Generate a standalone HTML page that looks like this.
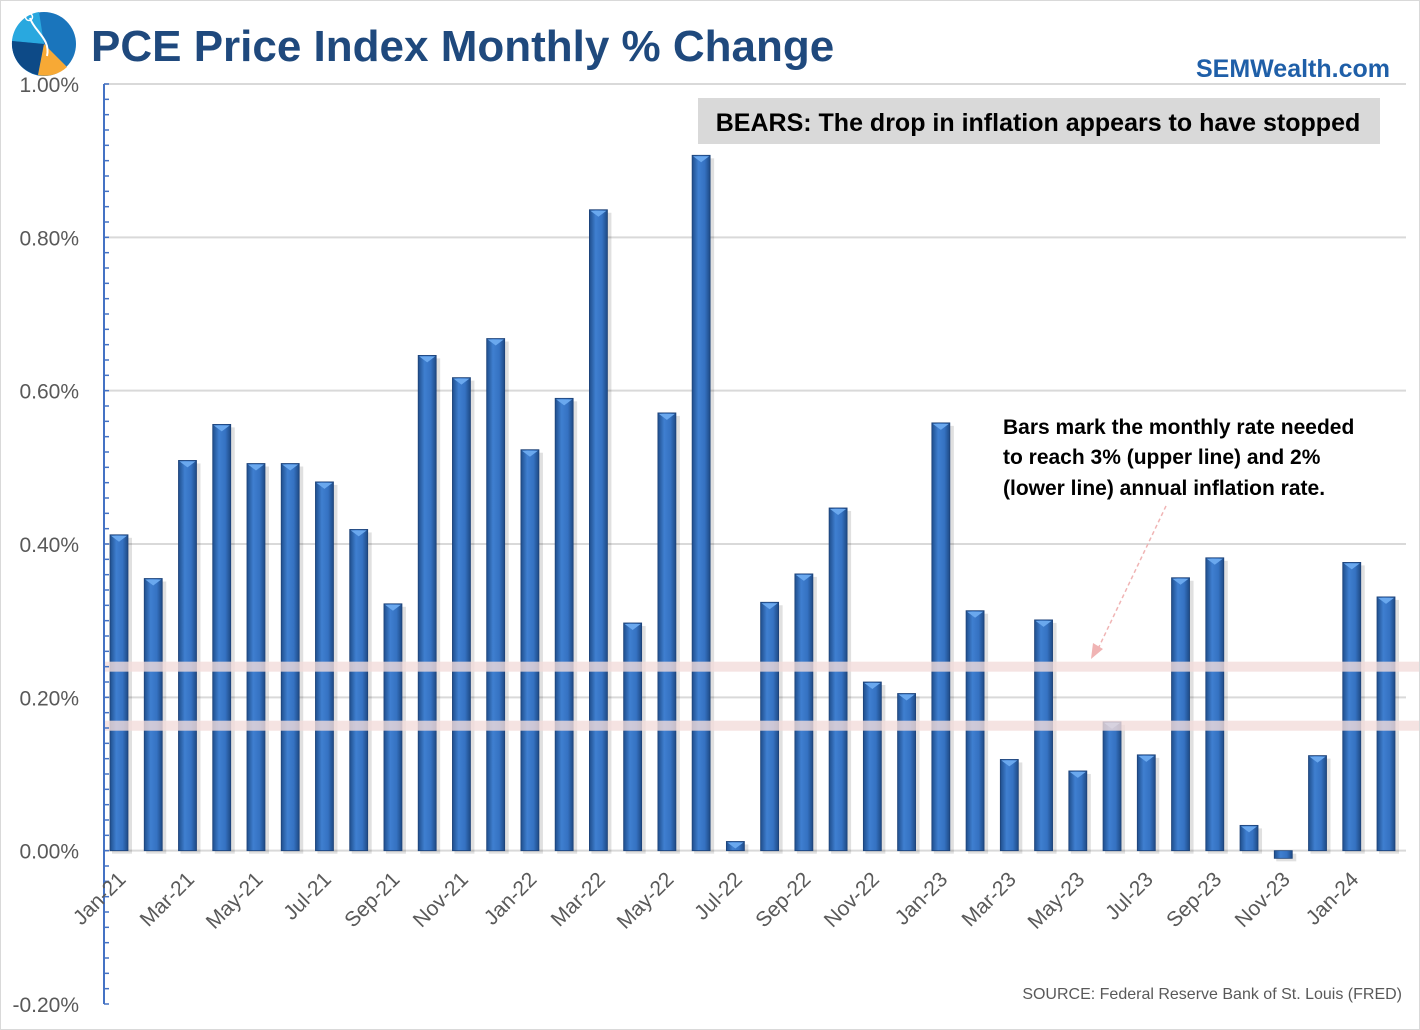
<!DOCTYPE html>
<html><head><meta charset="utf-8"><style>
body{margin:0;background:#fff;font-family:"Liberation Sans",sans-serif}
#wrap{position:relative;width:1420px;height:1030px;overflow:hidden;background:#fff;box-sizing:border-box;border:1px solid #d9d9d9}
</style></head><body>
<div id="wrap">
<svg id="chart" width="1420" height="1030">
<defs>
<linearGradient id="bg" x1="0" x2="1" y1="0" y2="0">
<stop offset="0" stop-color="#1f4e8c"/><stop offset="0.35" stop-color="#3f7fd0"/><stop offset="0.7" stop-color="#3572c2"/><stop offset="1" stop-color="#1e4a85"/>
</linearGradient>
</defs>
<g>
<circle cx="43" cy="43" r="32" fill="#1a75bc"/>
<path d="M43 43 L11 40 A32 32 0 0 1 38 11 Z" fill="#29a8df"/>
<path d="M43 43 L11 40 A32 32 0 0 0 37 74 Z" fill="#0d4a87"/>
<path d="M43 43 L37 74 A32 32 0 0 0 66 66 Z" fill="#f7a935"/>
<path d="M29 17 C33 30 50 38 46 55" stroke="#fff" stroke-width="2" fill="none"/>
<circle cx="28" cy="16" r="3.5" stroke="#fff" stroke-width="1.5" fill="none"/>
</g>
<text x="90" y="60" font-size="44" font-weight="bold" fill="#1f497d">PCE Price Index Monthly % Change</text>
<text x="1389" y="76" text-anchor="end" font-size="25" font-weight="bold" fill="#1f5fa8">SEMWealth.com</text>
<g id="grid"></g>
<g id="bars"></g>
<g id="bands"></g>
<g id="axis"></g>
<rect x="697" y="97" width="682" height="46" fill="#d9d9d9"/>
<text x="1037" y="130" text-anchor="middle" font-size="25" font-weight="bold" fill="#000">BEARS: The drop in inflation appears to have stopped</text>
<g font-size="21" font-weight="bold" fill="#000">
<text x="1002" y="433">Bars mark the monthly rate needed</text>
<text x="1002" y="463">to reach 3% (upper line) and 2%</text>
<text x="1002" y="494">(lower line) annual  inflation rate.</text>
</g>
<line x1="1165" y1="505" x2="1096" y2="650" stroke="#f0b4b4" stroke-width="1.5" stroke-dasharray="4,3"/>
<polygon points="1090,658 1092,642 1102,648" fill="#f0b4b4"/>
<text x="1401" y="998" text-anchor="end" font-size="16" fill="#595959">SOURCE: Federal Reserve Bank of St. Louis (FRED)</text>
</svg>
</div>
<script>
const categories=["Jan-21","Feb-21","Mar-21","Apr-21","May-21","Jun-21","Jul-21","Aug-21","Sep-21","Oct-21","Nov-21","Dec-21","Jan-22","Feb-22","Mar-22","Apr-22","May-22","Jun-22","Jul-22","Aug-22","Sep-22","Oct-22","Nov-22","Dec-22","Jan-23","Feb-23","Mar-23","Apr-23","May-23","Jun-23","Jul-23","Aug-23","Sep-23","Oct-23","Nov-23","Dec-23","Jan-24","Feb-24"];
const values=[0.412,0.355,0.509,0.556,0.505,0.505,0.481,0.419,0.322,0.646,0.617,0.668,0.523,0.590,0.836,0.297,0.571,0.907,0.012,0.324,0.361,0.447,0.220,0.205,0.558,0.313,0.119,0.301,0.104,0.168,0.125,0.356,0.382,0.033,-0.010,0.124,0.376,0.331];
const yTicks=[1.0,0.8,0.6,0.4,0.2,0.0,-0.2];
const refLines=[0.240,0.163];
const NS="http://www.w3.org/2000/svg";
const x0=103,x1=1405,yTop=83,yBot=1003,vMax=1.0,vMin=-0.2;
const y=v=>yTop+(vMax-v)/(vMax-vMin)*(yBot-yTop);
const step=(1385-118)/(categories.length-1);
const xc=i=>118+i*step;
function mk(t,a,p){const e=document.createElementNS(NS,t);for(const k in a)e.setAttribute(k,a[k]);p.appendChild(e);return e;}
const grid=document.getElementById('grid'),bars=document.getElementById('bars'),bands=document.getElementById('bands'),axis=document.getElementById('axis');
yTicks.forEach(v=>{
 if(v!==vMin){const l=mk('line',{x1:x0,x2:x1,y1:y(v),y2:y(v),stroke:'#d9d9d9','stroke-width':2},grid);
 
 }
 const t=mk('text',{x:78,y:y(v)+8,'text-anchor':'end','font-size':21,fill:'#595959'},axis);
 t.textContent=v.toFixed(2)+'%';
 
 
});
const ax=mk('line',{x1:x0,x2:x0,y1:yTop,y2:yBot,stroke:'#4472c4','stroke-width':2},axis);


for(let v=vMin;v<=vMax+1e-9;v+=0.02){mk('line',{x1:x0,x2:x0+5,y1:y(v),y2:y(v),stroke:'#4472c4','stroke-width':1.5},axis);}
values.forEach((v,i)=>{
 const top=Math.min(y(v),y(0)),h=Math.abs(y(v)-y(0));
 mk('rect',{x:xc(i)-9+2,y:top+3,width:20,height:h,fill:'#000',opacity:0.12},bars);
 const r=mk('rect',{x:xc(i)-9,y:top,width:18,height:Math.max(h,1),fill:'url(#bg)',stroke:'#1d4278','stroke-width':0.8},bars);
 
 
 if(v>0)mk('polygon',{points:`${xc(i)-8},${top+1} ${xc(i)+8},${top+1} ${xc(i)},${top+7}`,fill:'#6aa8ee'},bars);
 if(i%2===0){const tx=xc(i)+8,ty=y(0)+30;
  const t=mk('text',{x:tx,y:ty,'text-anchor':'end','font-size':21,fill:'#595959',transform:`rotate(-45 ${tx} ${ty})`},axis);
  t.textContent=categories[i];
  
  }
});
refLines.forEach(v=>{
 const b=mk('rect',{x:x0,y:y(v)-5,width:1420-x0,height:10,fill:'#f2dcdb',opacity:0.8},bands);
 
 
});
</script>
</body></html>
